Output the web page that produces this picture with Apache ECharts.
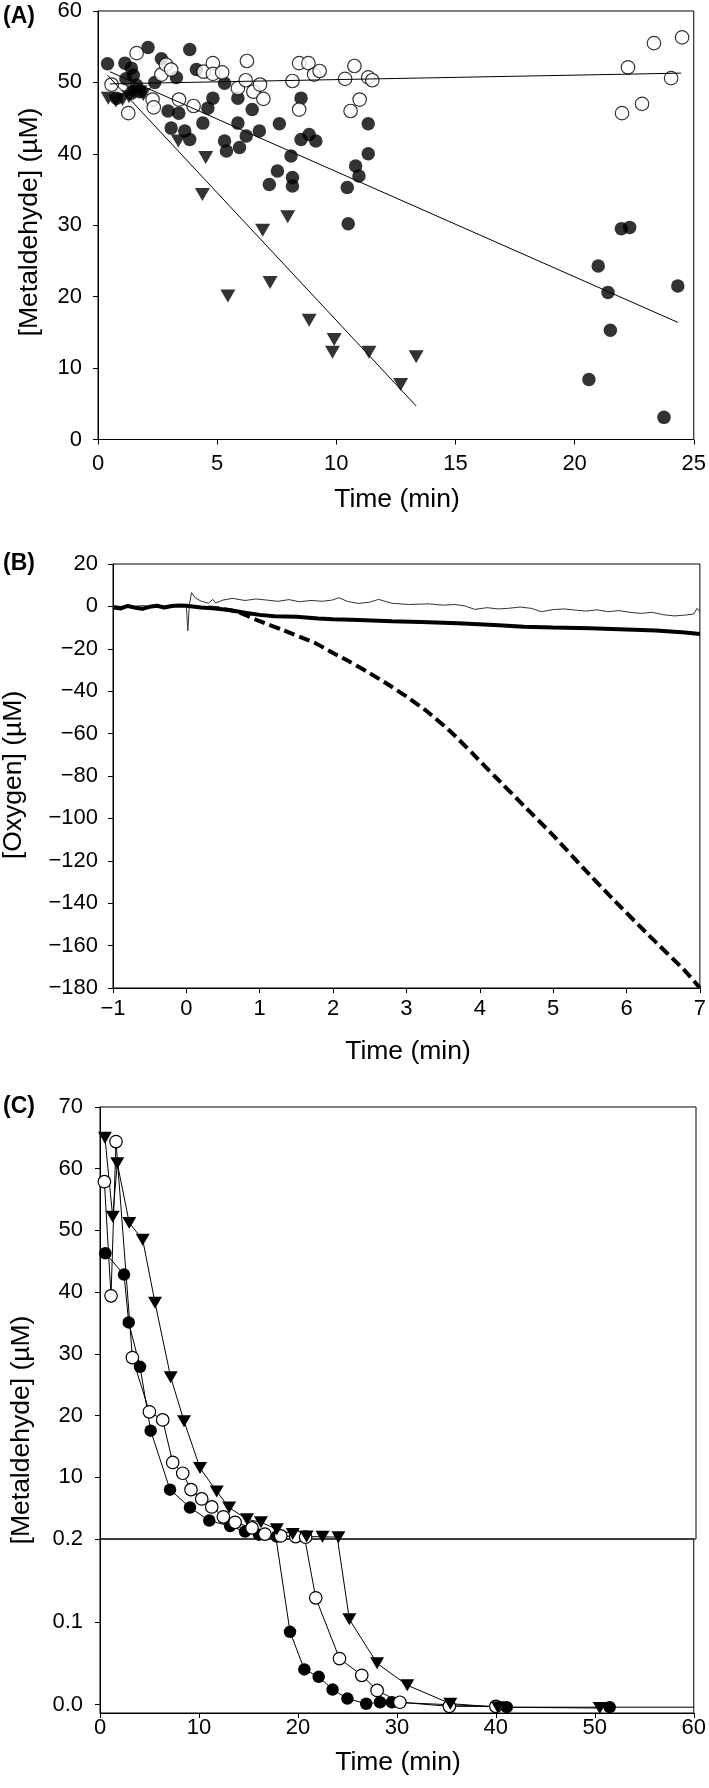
<!DOCTYPE html>
<html><head><meta charset="utf-8">
<script src="https://cdn.jsdelivr.net/npm/echarts@6/dist/echarts.min.js"></script>
<style>html,body{margin:0;padding:0;background:#fff}#c{width:709px;height:1788px}</style>
</head><body><div id="c"></div>
<script>
const FONT = '"Liberation Sans", Arial, Helvetica, sans-serif';

// ---------- Panel A: metaldehyde vs time (scatter + fits) ----------
const aFilledTime = [0.40,1.13,1.40,1.48,1.17,1.62,1.40,1.76,0.78,2.38,2.10,2.66,3.29,2.94,3.39,3.07,3.64,3.85,3.85,4.13,4.40,4.61,4.82,5.31,5.31,5.39,5.87,5.87,5.94,6.22,6.47,6.77,7.61,7.19,7.53,8.10,8.16,8.16,8.52,8.52,8.86,9.14,10.46,10.50,10.81,10.95,11.34,11.34,20.60,20.99,21.40,21.50,21.96,22.31,23.75,24.33];
const aFilledConc = [52.6,52.7,52.0,51.0,50.5,49.6,48.5,48.7,47.8,50.0,54.9,53.3,50.7,46.0,45.7,43.6,43.2,42.0,54.6,51.8,44.3,46.4,47.8,49.9,41.8,40.4,47.8,44.3,40.9,42.5,46.2,43.2,44.2,35.7,37.6,39.7,36.7,35.5,47.8,42.0,42.7,41.8,35.3,30.2,38.3,36.9,44.2,40.0,8.4,24.3,20.6,15.3,29.5,29.7,3.1,21.5];
const aOpenTime = [0.57,1.27,1.62,2.29,2.34,2.66,2.85,3.07,3.40,4.01,4.43,4.82,4.82,5.21,5.87,6.20,6.25,6.52,6.80,6.94,8.16,8.44,8.44,8.83,9.07,9.30,10.37,10.76,10.98,10.60,11.34,11.51,21.99,22.24,22.83,23.33,24.05,24.51];
const aOpenConc = [49.7,45.7,54.1,47.6,46.5,51.1,52.5,51.8,47.6,46.7,51.5,52.7,51.2,51.4,49.2,50.3,53.0,48.7,49.7,47.7,50.2,52.7,46.2,52.7,51.1,51.6,50.5,52.3,47.6,46.0,50.7,50.3,45.7,52.1,47.0,55.5,50.6,56.3];
const aTriTime = [0.43,0.75,1.03,1.30,1.48,1.76,1.90,3.37,4.52,4.38,5.45,6.91,7.22,7.96,8.86,9.91,9.84,11.37,12.70,13.35];
const aTriConc = [47.8,47.4,47.6,48.0,48.7,48.7,48.3,41.8,39.5,34.3,20.1,29.3,22.0,31.2,16.7,14.0,12.2,12.2,7.7,11.6];
const aFitFilledTime = [0.5, 24.33];
const aFitFilledConc = [51.5, 16.4];
const aFitOpenTime = [0.5, 24.47];
const aFitOpenConc = [49.8, 51.3];
const aFitTriTime = [0.4, 13.35];
const aFitTriConc = [51.0, 4.7];

// ---------- Panel B: oxygen traces ----------
const bThinTime = [-1,-0.8,-0.6,-0.4,-0.2,0.0,0.02,0.04,0.07,0.12,0.2,0.3,0.36,0.4,0.5,0.63,0.8,0.95,1.09,1.25,1.4,1.54,1.7,1.85,1.99,2.08,2.2,2.35,2.5,2.62,2.8,3.03,3.3,3.5,3.66,3.8,3.93,4.1,4.25,4.39,4.55,4.7,4.84,5.0,5.15,5.29,5.45,5.6,5.74,5.9,6.05,6.2,6.35,6.5,6.65,6.83,6.92,6.96,7.0];
const bThinO2 = [0.3,-0.2,0.4,-0.3,0.5,0.2,-11.5,0.5,6.5,4.0,2.5,1.5,3.3,1.6,3.0,3.8,2.8,3.5,3.0,2.4,3.2,2.2,2.8,2.4,3.0,4.1,2.3,1.4,2.0,3.3,1.5,0.9,1.2,0.6,0.9,0.2,-1.4,-0.6,-1.2,-0.9,-0.3,-0.9,-2.5,-1.5,-1.2,-1.7,-2.2,-1.6,-2.5,-2.0,-2.8,-3.3,-2.8,-3.9,-4.5,-4.0,-3.5,-0.9,-2.5];
const bThickTime = [-1,-0.9,-0.8,-0.7,-0.6,-0.5,-0.4,-0.3,-0.2,-0.1,0,0.2,0.4,0.6,0.8,1.0,1.2,1.5,1.8,2.0,2.35,2.8,3.2,3.7,4.2,4.6,5.0,5.5,6.0,6.4,6.8,7.0];
const bThickO2 = [-0.4,-1.0,0.2,-0.6,-1.1,-0.2,0.3,-0.5,0.2,0.4,0.3,-0.5,-1.0,-1.8,-3.0,-4.0,-4.7,-4.9,-5.7,-6.1,-6.4,-7.0,-7.4,-8.0,-8.8,-9.6,-10.0,-10.3,-10.9,-11.4,-12.3,-13.0];
const bDashTime = [0.3,0.5,0.7,0.86,1.0,1.31,1.76,2.0,2.22,2.5,2.8,3.0,3.26,3.6,3.89,4.2,4.6,5.0,5.4,5.8,6.3,6.8,7.0];
const bDashO2 = [-0.5,-1.2,-2.6,-4.9,-7.0,-11.1,-17.4,-22.0,-26.0,-31.5,-37.9,-42.5,-49.0,-59.0,-69.0,-80.0,-94.0,-108.0,-123.0,-137.5,-155.0,-172.0,-180.0];

// ---------- Panel C: metaldehyde vs time (broken axis) ----------
const cFilledTime = [0.54,2.42,2.89,4.03,5.1,7.05,9.06,11.0,13.1,14.6,16.0,17.8,19.2,20.65,22.1,23.5,25.0,26.9,28.3,29.5,41.1,51.5,60];
const cFilledConc = [46.3,42.85,35.1,27.9,17.55,8.0,5.1,2.98,2.1,1.2,0.7,0.4,0.088,0.0426,0.0336,0.0183,0.0074,0.0012,0.003,0.003,-0.003,-0.003,-0.003];
const cOpenTime = [0.44,1.11,1.61,3.26,4.97,6.31,7.32,8.33,9.16,10.24,11.25,12.42,13.6,15.3,16.6,18.2,19.7,20.7,21.8,24.2,26.45,28.0,30.3,35.3,40.0];
const cOpenConc = [57.9,39.4,64.4,29.4,20.6,19.3,12.4,10.65,8.0,6.5,5.2,3.6,2.7,1.8,0.8,0.5,0.4,0.3,0.129,0.0557,0.0355,0.0173,0.003,-0.002,-0.002];
const cTriTime = [0.5,1.28,1.74,2.95,4.3,5.54,7.12,8.46,10.07,11.75,13.0,14.8,16.2,17.8,19.4,20.8,22.4,24.0,25.2,28.0,31.05,35.4,40.2,50.5];
const cTriConc = [65,52.2,60.9,51.2,48.5,38.3,26.2,19.1,11.5,7.7,5.1,3.2,2.7,1.6,0.8,0.4,0.35,0.3,0.103,0.050,0.0235,0.0013,-0.003,-0.004];
const cBreak = 0.2;      // value where the axis is broken
const cUpperTicks = [10,20,30,40,50,60,70];
const cLowerTicks = [0, 0.1, 0.2];

const zip = (t, v) => t.map((x, i) => [x, v[i]]);
const minus = v => String(v).replace('-', '\u2212');

const TICK_FS = 22;
const TITLE_FS = 26.5;

function axisBase(fs) {
  return {
    axisLine: {show: true, onZero: false, lineStyle: {color: '#000', width: 1}},
    axisTick: {show: true, inside: false, length: 5, lineStyle: {color: '#000', width: 1}},
    splitLine: {show: false},
    axisLabel: {color: '#000', fontFamily: FONT, fontSize: fs}
  };
}
function mk(base, extra) {
  const o = JSON.parse(JSON.stringify(base));
  for (const k in extra) {
    if (typeof extra[k] === 'object' && !Array.isArray(extra[k]) && o[k]) Object.assign(o[k], extra[k]);
    else o[k] = extra[k];
  }
  return o;
}

const gridStyle = {show: true, borderColor: '#000', borderWidth: 1, backgroundColor: 'transparent', containLabel: false};

// split a C series into the upper and lower parts of the broken axis
function splitC(t, v) {
  const pts = zip(t, v);
  const upper = pts.filter(p => p[1] >= cBreak);
  const lowerPts = pts.filter(p => p[1] < cBreak);
  const lower = [];
  if (upper.length) lower.push({value: [upper[upper.length - 1][0], cBreak], symbol: 'none'});
  lowerPts.forEach(p => lower.push(p[0] >= 60 ? {value: p, symbol: 'none'} : p));
  return {upper, lower};
}
const cF = splitC(cFilledTime, cFilledConc);
const cO = splitC(cOpenTime, cOpenConc);
const cT = splitC(cTriTime, cTriConc);

const filledStyle = {color: '#000'};
const openStyle = {color: '#fff', borderColor: '#000', borderWidth: 1.2};
const triStyle = {color: '#000'};

function cSeries(d, symbol, size, rot, style, gi) {
  return {
    type: 'line', xAxisIndex: gi, yAxisIndex: gi, data: gi === 2 ? d.upper : d.lower,
    symbol, symbolSize: size, symbolRotate: rot, showSymbol: true, showAllSymbol: true,
    itemStyle: style, lineStyle: {color: '#000', width: 1}, clip: true, silent: true
  };
}

const option = {
  animation: false,
  backgroundColor: '#fff',
  grid: [
    Object.assign({left: 98, top: 9.5, width: 598, height: 430}, gridStyle),
    Object.assign({left: 113, top: 564, width: 590, height: 424}, gridStyle),
    Object.assign({left: 100, top: 1107, width: 596, height: 432}, gridStyle),
    Object.assign({left: 100, top: 1539, width: 596, height: 174}, gridStyle)
  ],
  xAxis: [
    mk(axisBase(TICK_FS), {type: 'value', gridIndex: 0, min: 0, max: 25, interval: 5, axisLabel: {margin: 13}}),
    mk(axisBase(TICK_FS), {type: 'value', gridIndex: 1, min: -1, max: 7, interval: 1, axisLabel: {margin: 10, formatter: minus}}),
    mk(axisBase(TICK_FS), {type: 'value', gridIndex: 2, min: 0, max: 60, show: false}),
    mk(axisBase(TICK_FS), {type: 'value', gridIndex: 3, min: 0, max: 60, interval: 10, axisLabel: {margin: 4}})
  ],
  yAxis: [
    mk(axisBase(TICK_FS), {type: 'value', gridIndex: 0, min: 0, max: 60, interval: 10, axisLabel: {margin: 16}}),
    mk(axisBase(TICK_FS), {type: 'value', gridIndex: 1, min: -180, max: 20, interval: 20, axisLabel: {margin: 15, formatter: minus}}),
    mk(axisBase(TICK_FS), {type: 'value', gridIndex: 2, min: 0, max: 70, interval: 10,
      axisTick: {customValues: cUpperTicks}, axisLabel: {margin: 17, customValues: cUpperTicks}}),
    mk(axisBase(TICK_FS), {type: 'value', gridIndex: 3, min: -0.01, max: 0.2,
      axisTick: {customValues: cLowerTicks}, axisLabel: {margin: 17, customValues: cLowerTicks, formatter: v => Number(v).toFixed(1)}})
  ],
  series: [
    // Panel A
    {type: 'scatter', xAxisIndex: 0, yAxisIndex: 0, data: zip(aTriTime, aTriConc), symbol: 'triangle', symbolRotate: 180, symbolSize: [15, 13], itemStyle: triStyle, silent: true},
    {type: 'scatter', xAxisIndex: 0, yAxisIndex: 0, data: zip(aFilledTime, aFilledConc), symbol: 'circle', symbolSize: 13.5, itemStyle: filledStyle, silent: true},
    {type: 'scatter', xAxisIndex: 0, yAxisIndex: 0, data: zip(aOpenTime, aOpenConc), symbol: 'circle', symbolSize: 13.5, itemStyle: openStyle, silent: true},
    {type: 'line', xAxisIndex: 0, yAxisIndex: 0, data: zip(aFitFilledTime, aFitFilledConc), showSymbol: false, lineStyle: {color: '#000', width: 1}, z: 5, silent: true},
    {type: 'line', xAxisIndex: 0, yAxisIndex: 0, data: zip(aFitOpenTime, aFitOpenConc), showSymbol: false, lineStyle: {color: '#000', width: 1}, z: 5, silent: true},
    {type: 'line', xAxisIndex: 0, yAxisIndex: 0, data: zip(aFitTriTime, aFitTriConc), showSymbol: false, lineStyle: {color: '#000', width: 1}, z: 5, silent: true},
    // Panel B
    {type: 'line', xAxisIndex: 1, yAxisIndex: 1, data: zip(bThinTime, bThinO2), showSymbol: false, lineStyle: {color: '#333', width: 1}, silent: true},
    {type: 'line', xAxisIndex: 1, yAxisIndex: 1, data: zip(bDashTime, bDashO2), showSymbol: false, smooth: 0.2, lineStyle: {color: '#000', width: 4, type: [11, 5]}, silent: true},
    {type: 'line', xAxisIndex: 1, yAxisIndex: 1, data: zip(bThickTime, bThickO2), showSymbol: false, lineStyle: {color: '#000', width: 4}, silent: true},
    // Panel C
    cSeries(cF, 'circle', 12.5, 0, filledStyle, 2),
    cSeries(cF, 'circle', 12.5, 0, filledStyle, 3),
    cSeries(cO, 'circle', 12.5, 0, openStyle, 2),
    cSeries(cO, 'circle', 12.5, 0, openStyle, 3),
    cSeries(cT, 'triangle', [14, 12], 180, triStyle, 2),
    cSeries(cT, 'triangle', [14, 12], 180, triStyle, 3)
  ],
  graphic: [
    {type: 'text', x: 3, y: 17, style: {text: '(A)', fontFamily: FONT, fontSize: 23, fontWeight: 'bold', fill: '#000', align: 'left', verticalAlign: 'middle'}},
    {type: 'text', x: 3, y: 564, style: {text: '(B)', fontFamily: FONT, fontSize: 23, fontWeight: 'bold', fill: '#000', align: 'left', verticalAlign: 'middle'}},
    {type: 'text', x: 3, y: 1107, style: {text: '(C)', fontFamily: FONT, fontSize: 23, fontWeight: 'bold', fill: '#000', align: 'left', verticalAlign: 'middle'}},
    {type: 'text', x: 397, y: 500, style: {text: 'Time (min)', fontFamily: FONT, fontSize: TITLE_FS, fill: '#000', align: 'center', verticalAlign: 'middle'}},
    {type: 'text', x: 408, y: 1052, style: {text: 'Time (min)', fontFamily: FONT, fontSize: TITLE_FS, fill: '#000', align: 'center', verticalAlign: 'middle'}},
    {type: 'text', x: 398, y: 1763, style: {text: 'Time (min)', fontFamily: FONT, fontSize: TITLE_FS, fill: '#000', align: 'center', verticalAlign: 'middle'}},
    {type: 'text', x: 30, y: 222, rotation: Math.PI / 2, style: {text: '[Metaldehyde] (\u00b5M)', fontFamily: FONT, fontSize: TITLE_FS, fill: '#000', align: 'center', verticalAlign: 'middle'}},
    {type: 'text', x: 14, y: 775, rotation: Math.PI / 2, style: {text: '[Oxygen] (\u00b5M)', fontFamily: FONT, fontSize: TITLE_FS, fill: '#000', align: 'center', verticalAlign: 'middle'}},
    {type: 'text', x: 22, y: 1430, rotation: Math.PI / 2, style: {text: '[Metaldehyde] (\u00b5M)', fontFamily: FONT, fontSize: TITLE_FS, fill: '#000', align: 'center', verticalAlign: 'middle'}}
  ]
};

const chart = echarts.init(document.getElementById('c'), null, {renderer: 'canvas'});
chart.setOption(option);
</script>
</body></html>
